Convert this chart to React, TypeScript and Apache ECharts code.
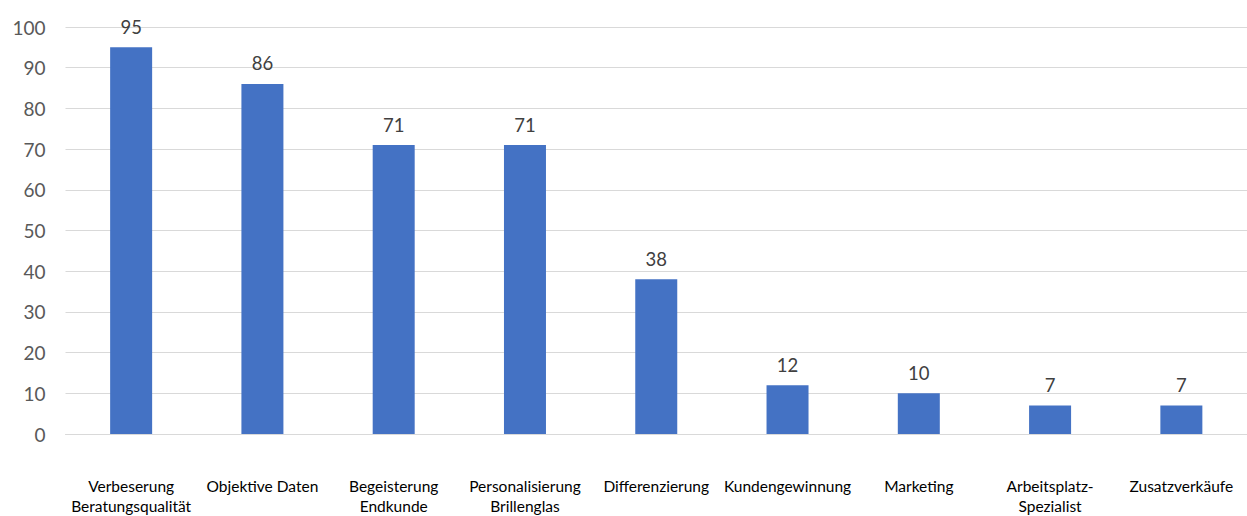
import React, { useEffect, useRef } from "react";
import * as echarts from "echarts";

const categories = [
  "Verbeserung\nBeratungsqualität",
  "Objektive Daten",
  "Begeisterung\nEndkunde",
  "Personalisierung\nBrillenglas",
  "Differenzierung",
  "Kundengewinnung",
  "Marketing",
  "Arbeitsplatz-\nSpezialist",
  "Zusatzverkäufe",
];
const values = [95, 86, 71, 71, 38, 12, 10, 7, 7];
const yMin = 0;
const yMax = 100;
const yInterval = 10;

const FONT = "Lato, 'Open Sans', sans-serif";

export default function App() {
  const ref = useRef<HTMLDivElement>(null);
  useEffect(() => {
    if (!ref.current) return;
    const chart = echarts.init(ref.current, undefined, { renderer: "svg" });
    chart.setOption({
      animation: false,
      backgroundColor: "#ffffff",
      grid: { left: 65.5, right: 0, top: 27, height: 411, containLabel: false },
      xAxis: {
        type: "category",
        data: categories,
        axisLine: { show: true, lineStyle: { color: "#D9D9D9", width: 1 } },
        axisTick: { show: false },
        axisLabel: {
          interval: 0,
          margin: 42,
          color: "#000000",
          fontFamily: FONT,
          fontSize: 15.5,
          lineHeight: 20,
        },
      },
      yAxis: {
        type: "value",
        min: yMin,
        max: yMax,
        interval: yInterval,
        axisLine: { show: false },
        axisTick: { show: false },
        splitLine: { show: true, lineStyle: { color: "#D9D9D9", width: 1 } },
        axisLabel: {
          margin: 20,
          color: "#595959",
          fontFamily: FONT,
          fontSize: 19,
        },
      },
      series: [
        {
          type: "bar",
          data: values,
          barWidth: 42,
          itemStyle: { color: "#4472C4" },
          label: {
            show: true,
            position: "top",
            distance: 11,
            color: "#404040",
            fontFamily: FONT,
            fontSize: 18.5,
          },
        },
      ],
    });
    return () => chart.dispose();
  }, []);
  return (
    <div
      ref={ref}
      style={{ position: "fixed", left: 0, top: 0, width: 1247, height: 516 }}
    />
  );
}
